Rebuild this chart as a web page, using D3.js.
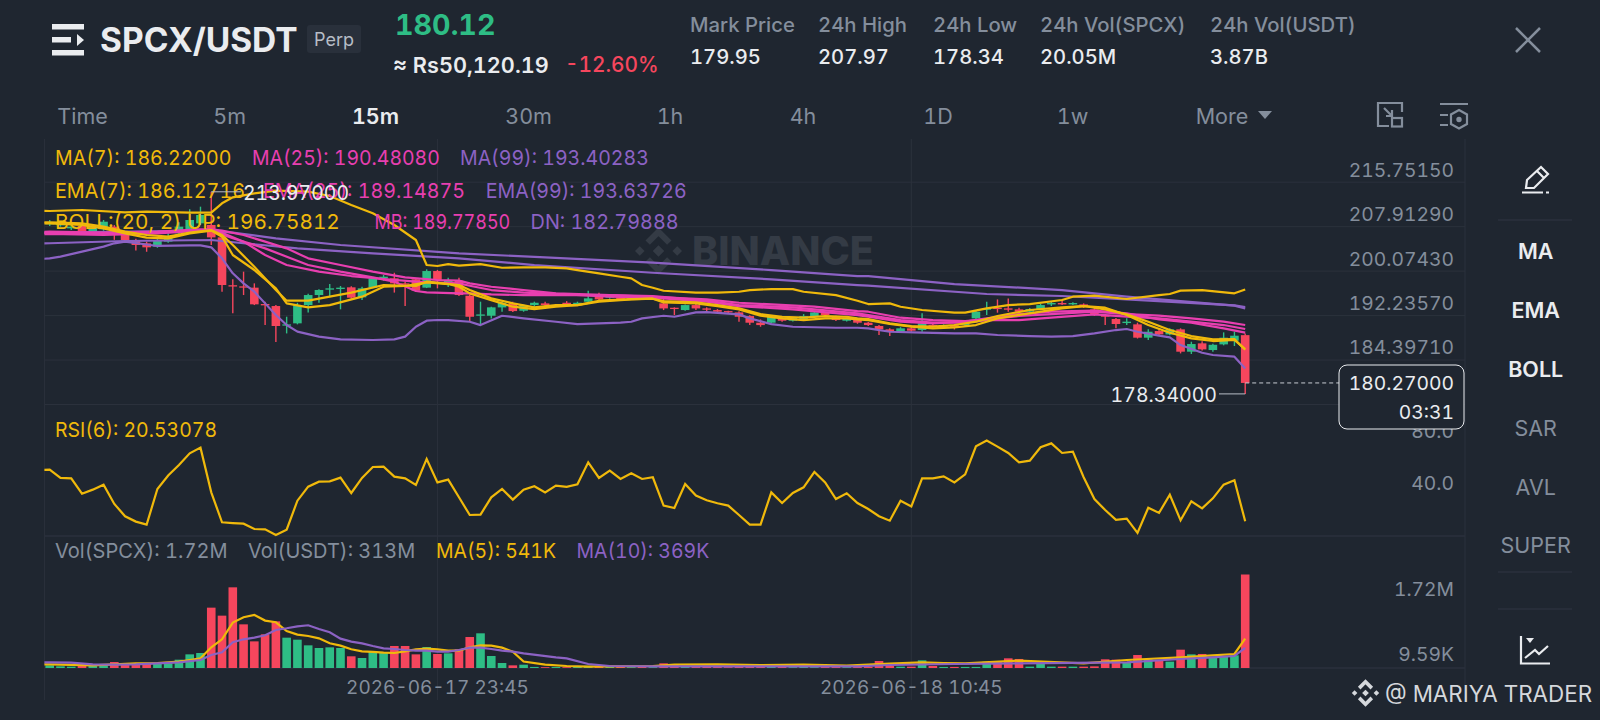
<!DOCTYPE html>
<html>
<head>
<meta charset="utf-8">
<script src="https://cdn.jsdelivr.net/npm/d3@7/dist/d3.min.js"></script>
<style>
  html, body { margin: 0; padding: 0; background: #1f2630; }
  svg { display: block; }
  text { font-family: Inter, "Noto Sans", sans-serif; font-variant-numeric: tabular-nums; }
</style>
</head>
<body>
<svg id="chart" width="1600" height="720"></svg>
<script>
// candles, 15m, oldest first
const opens = [
  208.24,208.06,207.53,207.94,207.0,207.35,207.82,206.65,205.47,204.88,
  204.3,205.18,206.65,207.24,208.41,208.12,205.94,197.5,197.3,197.07,
  194.19,193.83,190.37,190.78,194.0,195.77,196.72,196.83,197.13,195.36,
  197.07,198.71,198.71,197.83,198.54,197.07,200.0,197.54,198.3,195.65,
  192.12,192.12,193.59,194.3,193.0,194.0,194.3,193.83,194.41,194.0,
  194.59,195.94,195.3,195.35,195.12,195.3,195.06,194.3,193.53,193.12,
  194.0,193.41,193.12,192.94,192.71,192.06,190.89,190.89,191.65,191.24,
  191.36,192.06,192.65,191.94,191.24,191.53,190.89,190.31,189.72,189.3,
  189.9,189.6,190.48,190.19,190.48,190.48,191.66,193.18,193.54,193.42,
  193.24,192.83,193.24,194.12,194.36,194.12,194.12,193.24,192.24,191.54,
  190.83,190.6,188.25,189.42,188.83,189.72,185.78,187.25,186.07,187.07,
  187.72,188.7];
const closes = [
  208.53,208.3,207.82,206.98,207.7,208.7,206.35,205.47,204.59,204.18,
  205.47,206.18,207.82,209.0,209.88,205.94,197.54,197.3,197.1,194.13,
  193.95,190.31,190.6,194.0,195.77,196.66,196.95,197.07,195.3,196.95,
  198.71,199.0,197.83,197.65,196.54,200.0,198.42,198.42,195.77,191.94,
  192.35,193.6,194.41,192.94,194.0,194.41,194.0,194.0,194.12,194.41,
  195.18,195.0,195.59,195.0,195.35,195.06,195.3,193.41,193.3,194.0,
  193.41,193.24,192.83,192.71,191.94,190.89,190.47,191.94,191.24,191.77,
  192.06,192.71,192.24,191.36,191.65,190.89,190.48,189.72,189.3,189.9,
  189.48,190.77,190.19,190.48,190.07,191.07,192.83,193.42,193.3,193.18,
  192.83,193.3,194.0,194.36,194.12,194.36,193.71,192.24,191.95,190.66,
  191.07,188.25,189.3,188.83,189.72,185.78,187.13,186.19,187.0,188.25,
  188.6,180.27];
const highs = [
  209.0,208.53,208.06,208.3,208.0,209.0,208.1,206.9,205.7,205.2,
  205.7,206.65,208.6,210.88,211.35,213.97,206.0,198.54,199.89,197.83,
  194.6,194.0,191.95,194.4,196.0,196.8,197.7,197.36,197.3,197.24,
  198.9,199.3,199.7,198.1,198.7,200.3,200.2,198.8,198.8,195.8,
  194.6,193.7,194.6,194.6,194.1,194.6,194.6,194.2,194.7,194.6,
  196.53,196.18,195.8,195.6,195.5,195.4,195.5,195.59,193.6,194.1,
  194.2,193.6,193.3,193.0,192.9,192.2,191.47,192.2,191.9,191.9,
  192.41,192.9,192.8,192.1,191.8,191.7,191.0,190.5,189.9,190.1,
  190.1,192.54,190.7,190.6,190.6,191.2,193.0,194.6,195.0,195.18,
  193.54,193.5,194.2,194.6,195.0,194.5,194.3,193.6,192.4,191.7,
  191.66,190.9,189.72,189.9,189.9,189.9,187.54,187.6,187.2,189.19,
  189.3,189.0];
const lows = [
  207.94,207.82,207.24,206.7,206.6,207.1,205.5,205.2,203.6,203.4,
  204.1,205.0,206.3,207.0,208.1,204.59,196.36,192.54,195.77,194.0,
  190.5,187.5,189.0,190.6,192.7,194.42,195.36,193.25,195.1,194.9,
  196.95,198.3,196.2,193.83,196.3,197.0,196.95,197.2,195.6,191.06,
  190.65,191.65,192.83,192.8,192.83,193.7,193.7,193.7,193.9,193.9,
  194.4,194.8,195.1,194.9,195.0,194.9,194.9,193.12,192.24,193.0,
  193.12,192.83,192.65,192.5,191.06,190.47,190.18,190.8,191.06,191.1,
  191.2,192.0,192.1,191.2,191.1,190.7,190.3,188.72,188.54,189.1,
  189.3,189.3,190.0,190.0,189.7,190.3,191.5,192.24,192.66,192.83,
  192.6,192.7,193.1,193.83,194.0,194.0,193.5,192.1,190.48,189.9,
  190.48,188.1,187.84,188.7,188.7,185.48,185.37,186.0,185.78,186.9,
  186.78,178.34];

// volume in thousands
const volumes = [
  49,31,25,49,37,55,110,67,74,86,
  74,86,153,251,276,1110,963,1484,803,490,
  619,858,558,521,417,368,380,368,215,184,
  300,282,405,405,251,386,258,270,343,570,
  638,221,92,49,61,20,15,18,15,20,
  40,30,20,20,15,18,15,86,66,18,
  18,25,18,15,25,25,25,25,37,15,
  25,15,18,18,15,18,18,129,37,25,
  25,141,37,20,20,20,20,117,117,178,
  166,25,86,25,25,25,25,30,160,153,
  104,239,160,147,117,337,251,258,196,208,
  233,1720];

// first value belongs to the candle just off the left edge
const rsi = [
  59.8,60.3,53.9,53.6,41.8,44.9,48.7,33.9,24.4,20.3,18.0,
  45.4,55.7,63.9,72.8,77.2,42.8,19.8,19.2,18.7,14.6,
  14.4,10.0,14.1,36.4,47.2,51.0,51.3,54.1,42.3,53.9,
  62.3,62.6,54.9,53.6,48.5,68.5,50.5,52.6,39.0,25.4,
  25.7,39.0,45.4,37.2,44.9,47.5,42.8,48.0,47.0,49.0,
  65.9,53.9,59.5,53.1,57.5,53.1,54.4,32.6,30.8,49.2,
  40.3,36.7,34.4,32.6,25.4,18.0,18.0,42.8,34.6,42.3,
  46.7,58.5,50.5,37.7,42.1,34.6,30.0,24.4,21.0,36.4,
  32.0,53.6,53.6,55.1,50.5,56.7,78.2,82.6,78.0,73.1,
  65.9,67.2,77.5,80.5,73.1,74.1,54.4,37.7,29.2,21.6,
  22.6,11.6,31.0,27.0,41.0,21.3,35.9,30.5,38.2,48.7,
  52.1,20.53];

// overlay lines, [candle index, value]
const bollUp = [[-1,210.6],[0,210.59],[3,210.76],[7,210.35],[9,210.47],[13,210.29],[15,210.29],[16,211.94],[17,213.0],[19,213.7],[21,214.17],[24,214.0],[26,213.23],[28,211.65],[30,210.18],[32,208.12],[34,205.47],[35,201.06],[36,200.89],[37,201.23],[38,200.94],[40,201.23],[42,200.58],[44,200.64],[46,200.64],[48,200.47],[49,200.17],[51,199.59],[53,199.0],[54,198.7],[55,197.53],[56,197.06],[57,196.53],[60,196.18],[62,196.18],[64,196.35],[65,196.65],[67,196.82],[69,196.82],[70,196.35],[73,195.76],[75,194.77],[76,194.18],[78,194.3],[79,193.71],[81,193.13],[84,192.66],[85,192.66],[87,193.42],[89,194.0],[91,194.18],[94,194.89],[95,195.48],[97,195.65],[100,195.07],[103,195.77],[104,195.95],[105,196.54],[107,196.65],[110,196.07],[111,196.76]];
const bollDn = [[-1,202.1],[0,202.24],[1,202.53],[3,203.42],[5,204.3],[6,204.89],[7,205.18],[10,204.42],[13,204.53],[14,204.53],[15,204.18],[16,202.24],[17,199.6],[18,197.83],[19,196.36],[20,194.3],[21,192.25],[22,190.48],[23,189.31],[25,188.43],[27,187.96],[30,187.84],[32,187.96],[33,188.43],[34,190.19],[35,191.25],[36,191.37],[37,191.36],[39,191.06],[40,190.47],[42,192.12],[44,191.65],[47,191.06],[49,190.65],[53,190.89],[54,191.06],[55,191.65],[57,192.12],[58,191.94],[60,192.71],[61,192.77],[64,192.36],[65,191.65],[67,190.65],[69,190.18],[73,190.0],[75,190.0],[76,189.9],[78,189.3],[81,189.13],[84,189.01],[86,189.01],[88,188.72],[91,188.54],[93,188.42],[95,188.54],[97,189.0],[99,189.6],[100,189.78],[101,189.3],[103,188.6],[104,188.3],[105,186.95],[107,185.6],[108,185.2],[110,184.9],[111,182.8]];
const bollMb = [[-1,206.5],[0,206.53],[5,206.35],[10,206.65],[14,207.12],[15,207.12],[17,205.77],[20,204.0],[24,201.06],[27,199.89],[30,198.89],[32,198.13],[34,196.48],[35,196.25],[38,196.07],[39,196.06],[41,195.88],[44,195.76],[48,195.76],[52,195.76],[56,195.59],[61,194.77],[64,194.0],[69,193.59],[75,192.53],[76,192.24],[79,191.36],[82,190.9],[85,190.9],[87,191.36],[90,191.36],[93,191.77],[97,192.36],[100,191.95],[103,191.66],[106,191.07],[109,190.48],[111,189.78]];
const ma25 = [[-1,206.9],[0,206.94],[5,206.77],[10,206.94],[14,207.35],[15,207.35],[16,207.12],[18,206.35],[20,205.18],[22,204.0],[24,202.24],[27,201.06],[30,199.89],[33,198.89],[36,198.42],[38,198.3],[39,197.82],[41,197.23],[44,196.65],[47,196.06],[52,195.76],[56,195.47],[61,195.0],[64,194.41],[71,193.71],[75,192.94],[76,192.83],[79,191.77],[82,191.36],[85,191.17],[87,191.48],[90,192.07],[93,192.42],[97,192.83],[100,192.42],[103,192.13],[106,191.66],[109,191.07],[111,190.48]];
const ema25 = [[-1,206.7],[0,206.77],[5,206.65],[10,206.83],[14,207.24],[15,207.24],[16,206.77],[18,205.18],[20,202.83],[22,201.06],[25,199.89],[28,199.12],[31,198.6],[34,198.13],[36,197.95],[38,197.83],[39,197.41],[41,196.65],[44,196.18],[48,195.88],[52,195.47],[56,195.29],[61,194.59],[64,193.82],[69,193.24],[75,192.24],[76,191.95],[79,191.07],[82,190.78],[85,191.07],[87,191.66],[90,192.42],[93,192.83],[97,193.01],[100,192.54],[103,191.48],[106,190.89],[109,189.89],[111,189.15]];
const ma99 = [[-1,206.75],[0,206.77],[15,207.12],[17,206.77],[21,205.77],[27,204.59],[38,203.12],[46,202.41],[56,201.47],[67,200.17],[75,199.12],[76,199.12],[84,197.71],[94,196.65],[100,195.48],[110,193.9],[111,193.4]];
const ema99 = [[-1,204.85],[0,204.9],[7,205.3],[15,205.47],[18,204.9],[23,204.0],[30,203.12],[38,202.24],[45,201.05],[56,199.7],[67,198.53],[75,197.53],[76,197.42],[87,195.95],[94,195.6],[100,195.0],[110,193.95],[111,193.64]];
const ma7 = [[-1,208.4],[0,208.41],[3,208.12],[5,207.53],[7,206.65],[9,205.88],[11,205.77],[13,206.65],[15,207.12],[16,206.06],[17,202.83],[19,200.18],[21,196.95],[22,194.3],[24,193.6],[26,194.0],[29,195.48],[31,197.24],[33,197.36],[35,198.0],[37,197.71],[38,197.24],[39,196.06],[41,194.88],[43,193.71],[45,193.3],[47,193.71],[49,194.0],[51,194.59],[54,195.0],[56,195.12],[57,194.47],[60,194.3],[62,193.82],[64,193.24],[66,192.12],[68,191.65],[70,191.36],[72,191.65],[74,191.65],[75,191.47],[76,191.36],[78,190.66],[80,190.19],[82,189.9],[84,190.07],[86,190.48],[88,191.66],[91,192.54],[94,193.42],[96,193.83],[98,193.54],[100,192.24],[102,190.48],[104,189.13],[106,188.13],[108,187.66],[110,187.84],[111,186.22]];
const ema7 = [[-1,208.6],[0,208.6],[3,208.41],[5,207.82],[7,206.94],[9,206.35],[11,206.06],[13,206.77],[15,207.24],[16,206.35],[17,204.59],[19,200.77],[21,196.66],[22,194.77],[24,194.77],[26,195.48],[28,196.19],[31,197.54],[34,197.36],[35,198.13],[38,197.54],[39,196.65],[41,195.18],[43,194.3],[45,193.59],[47,194.0],[49,194.0],[51,194.77],[54,195.06],[56,195.12],[57,194.71],[60,194.47],[62,194.0],[64,193.41],[66,192.41],[68,191.94],[70,191.77],[72,192.06],[74,191.94],[75,191.65],[76,191.54],[78,190.78],[80,190.3],[82,190.19],[84,190.48],[86,191.07],[88,192.07],[91,193.13],[94,193.6],[96,193.83],[98,193.24],[100,192.36],[102,191.07],[104,189.6],[106,188.54],[108,187.95],[110,188.0],[111,186.13]];
const volMa5 = [[-1,68],[0,68],[4,49],[8,86],[10,92],[12,117],[13,147],[14,178],[15,380],[16,528],[17,835],[18,933],[19,976],[20,872],[21,841],[22,681],[23,614],[24,589],[25,546],[26,454],[27,411],[28,344],[29,307],[30,295],[31,282],[32,276],[33,307],[34,344],[35,356],[36,344],[37,319],[38,319],[39,380],[40,417],[41,411],[42,374],[43,300],[44,120],[46,61],[48,37],[50,25],[52,31],[56,37],[58,61],[62,68],[66,55],[70,61],[74,43],[78,80],[81,104],[83,92],[85,86],[90,135],[96,86],[100,147],[105,196],[108,233],[110,258],[111,541]];
const volMa10 = [[-1,104],[0,104],[2,98],[4,68],[6,61],[8,68],[10,86],[12,104],[14,147],[15,239],[16,289],[17,473],[18,528],[19,559],[20,602],[21,700],[22,731],[23,767],[24,786],[25,718],[26,657],[27,540],[28,485],[29,454],[30,405],[31,362],[32,350],[33,331],[34,319],[35,319],[36,301],[37,301],[38,331],[39,374],[40,374],[41,350],[42,320],[43,300],[44,270],[47,196],[48,178],[50,74],[52,37],[56,31],[75,31],[78,55],[84,74],[90,86],[100,104],[105,166],[108,196],[110,221],[111,369]];

const priceTicks = [215.7515, 207.9129, 200.0743, 192.2357, 184.3971, 176.5585];
const rsiTicks = [80, 40];
const volTicks = [1720, 9.59];
const volTickLabels = ['1.72M', '9.59K'];
const timeLabels = [[36, '2026-06-17 23:45'], [80, '2026-06-18 10:45']];
const tabs = ['Time', '5m', '15m', '30m', '1h', '4h', '1D', '1w', 'More'];
const tools = ['MA', 'EMA', 'BOLL', 'SAR', 'AVL', 'SUPER'];
const statLabels = ['Mark Price', '24h High', '24h Low', '24h Vol(SPCX)', '24h Vol(USDT)'];
const statValues = ['179.95', '207.97', '178.34', '20.05M', '3.87B'];

const BG = '#1f2630', GRID = '#2b313c', GREY = '#848e9c', WHITE = '#eaecef';
const UP = '#2ebd85', DOWN = '#f6465d';
const YELLOW = '#f0b90b', PINK = '#e83fb0', PURPLE = '#8c62c4';

const svg = d3.select('#chart');
svg.append('rect').attr('width', 1600).attr('height', 720).attr('fill', BG);

const left = 44.4, right = 1465;
const x = d3.scaleLinear().domain([0, 111]).range([49.7, 1245.2]);
const y = d3.scaleLinear().domain([215.7515, 176.5585]).range([181.7, 404]);
const yRsi = d3.scaleLinear().domain([80, 40]).range([444, 496]);
const yVol = d3.scaleLinear().domain([0, 1720]).range([668, 574.5]);

svg.append('clipPath').attr('id', 'plot').append('rect')
  .attr('x', left).attr('y', 130).attr('width', right - left).attr('height', 570);

function label(g, px, py, str, fill, size, weight, anchor) {
  return g.append('text')
    .attr('x', px).attr('y', py)
    .attr('dy', '0.36em')
    .attr('fill', fill)
    .attr('font-size', size)
    .attr('font-weight', weight || 400)
    .attr('text-anchor', anchor || 'start')
    .text(str);
}

function exchangeLogo(g, cx, cy, r, color) {
  const c = g.append('g').attr('transform', `translate(${cx}, ${cy})`);
  const diamond = (dx, dy, s) => c.append('path')
    .attr('d', `M${dx - s},${dy} L${dx},${dy - s} L${dx + s},${dy} L${dx},${dy + s} Z`)
    .attr('fill', color);
  diamond(0, 0, r * 0.24);
  diamond(-r * 0.78, 0, r * 0.2);
  diamond(r * 0.78, 0, r * 0.2);
  [-1, 1].forEach(s => {
    c.append('path')
      .attr('d', `M${-r * 0.45},${s * r * 0.35} L0,${s * r * 0.8} L${r * 0.45},${s * r * 0.35}`)
      .attr('fill', 'none')
      .attr('stroke', color)
      .attr('stroke-width', r * 0.26);
  });
}

// grid
const grid = svg.append('g');
const gridLines = g => g.select('.domain').remove();
grid.append('g')
  .attr('transform', `translate(${left}, 0)`)
  .call(d3.axisRight(y).tickValues(priceTicks).tickSize(right - left).tickFormat(''))
  .call(gridLines)
  .selectAll('line').attr('stroke', GRID);
[536, 668].forEach(py => {
  grid.append('line').attr('x1', left).attr('x2', right).attr('y1', py).attr('y2', py).attr('stroke', GRID).attr('stroke-width', 1.5);
});
[left, x(36), x(80), right].forEach(px => {
  grid.append('line').attr('x1', px).attr('x2', px).attr('y1', 139).attr('y2', 700).attr('stroke', GRID);
});

// faint logo behind the candles
const mark = svg.append('g');
exchangeLogo(mark, 658.5, 251, 24, '#343b45');
label(mark, 692, 251, 'BINANCE', '#343b45', 39.5, 800);

// candles
const idx = d3.range(opens.length);
const colorOf = i => closes[i] >= opens[i] ? UP : DOWN;
const barW = 8.6;

const candles = svg.append('g');
candles.selectAll('.wick')
  .data(idx)
  .enter().append('line')
    .attr('class', 'wick')
    .attr('x1', i => x(i)).attr('x2', i => x(i))
    .attr('y1', i => y(highs[i])).attr('y2', i => y(lows[i]))
    .attr('stroke', colorOf)
    .attr('stroke-width', 1.4);
candles.selectAll('.body')
  .data(idx)
  .enter().append('rect')
    .attr('class', 'body')
    .attr('x', i => x(i) - barW / 2)
    .attr('width', barW)
    .attr('y', i => y(Math.max(opens[i], closes[i])))
    .attr('height', i => Math.max(1.3, Math.abs(y(opens[i]) - y(closes[i]))))
    .attr('fill', colorOf);

// overlays
const plot = svg.append('g').attr('clip-path', 'url(#plot)');
const knotLine = scale => d3.line().x(d => x(d[0])).y(d => scale(d[1]));
const overlays = [
  [ma99, PURPLE], [ema99, PURPLE], [bollDn, PURPLE],
  [ma25, PINK], [bollMb, PINK], [ema25, PINK],
  [bollUp, YELLOW], [ma7, YELLOW], [ema7, YELLOW],
];
overlays.forEach(d => {
  plot.append('path').datum(d[0])
    .attr('d', knotLine(y))
    .attr('fill', 'none')
    .attr('stroke', d[1])
    .attr('stroke-width', 2.2)
    .attr('stroke-linejoin', 'round');
});

// rsi
plot.append('path').datum(rsi)
  .attr('d', d3.line().x((d, i) => x(i - 1)).y(d => yRsi(d)))
  .attr('fill', 'none')
  .attr('stroke', YELLOW)
  .attr('stroke-width', 2.2);

// volume
plot.selectAll('.vol')
  .data(idx)
  .enter().append('rect')
    .attr('class', 'vol')
    .attr('x', i => x(i) - barW / 2)
    .attr('width', barW)
    .attr('y', i => yVol(volumes[i]))
    .attr('height', i => yVol(0) - yVol(volumes[i]))
    .attr('fill', colorOf);
[[volMa5, YELLOW], [volMa10, PURPLE]].forEach(d => {
  plot.append('path').datum(d[0])
    .attr('d', knotLine(yVol))
    .attr('fill', 'none')
    .attr('stroke', d[1])
    .attr('stroke-width', 2.2);
});

// legends, last number is the width the string takes up
const txt = svg.append('g');
[
  ['MA(7): 186.22000', 55, 158, YELLOW, 176.5], ['MA(25): 190.48080', 252, 158, PINK, 187.8], ['MA(99): 193.40283', 460, 158, PURPLE, 188.8],
  ['EMA(7): 186.12716', 55, 191, YELLOW, 190], ['EMA(25): 189.14875', 263, 191, PINK, 202], ['EMA(99): 193.63726', 485.7, 191, PURPLE, 201],
  ['BOLL:(20, 2) UP: 196.75812', 55, 222, YELLOW, 284.8], ['MB: 189.77850', 374.5, 222, PINK, 135.7], ['DN: 182.79888', 530.6, 222, PURPLE, 148],
  ['RSI(6): 20.53078', 55, 429.5, YELLOW, 162],
  ['Vol(SPCX): 1.72M', 55, 551, GREY, 172.5], ['Vol(USDT): 313M', 248, 551, GREY, 167.3], ['MA(5): 541K', 436, 551, YELLOW, 120], ['MA(10): 369K', 576.5, 551, PURPLE, 132.7],
].forEach(d => {
  label(txt, d[1], d[2], d[0], d[3], 20.5)
    .attr('textLength', d[4])
    .attr('lengthAdjust', 'spacingAndGlyphs');
});

// high and low markers
svg.append('line').attr('x1', x(15)).attr('x2', 241).attr('y1', y(213.97)).attr('y2', y(213.97)).attr('stroke', '#b7bdc6');
label(txt, 243, y(213.97) + 1, '213.97000', WHITE, 20.5)
  .attr('textLength', 106).attr('lengthAdjust', 'spacingAndGlyphs');
svg.append('line').attr('x1', 1219).attr('x2', x(111)).attr('y1', y(178.34)).attr('y2', y(178.34)).attr('stroke', '#b7bdc6');
label(txt, 1217, y(178.34) + 1, '178.34000', WHITE, 19.5, 400, 'end');

// right axis labels
const AXIS_SIZE = 19.3;
priceTicks.forEach(t => label(txt, 1454, y(t) - 12, d3.format('.5f')(t), GREY, AXIS_SIZE, 400, 'end'));
rsiTicks.forEach(t => label(txt, 1454, yRsi(t) - 13, d3.format('.1f')(t), GREY, AXIS_SIZE, 400, 'end'));
volTicks.forEach((t, i) => label(txt, 1454, yVol(t) + (i === 0 ? 14.5 : -13), volTickLabels[i], GREY, AXIS_SIZE, 400, 'end'));

// last price tag, covers the lowest price label
svg.append('line').attr('x1', x(111)).attr('x2', 1339).attr('y1', y(180.27)).attr('y2', y(180.27))
  .attr('stroke', '#c8ccd2').attr('stroke-dasharray', '4,3');
svg.append('rect').attr('x', 1339).attr('y', 365).attr('width', 125).attr('height', 64).attr('rx', 8)
  .attr('fill', BG).attr('stroke', WHITE);
label(svg, 1454, 383, '180.27000', WHITE, AXIS_SIZE, 400, 'end');
label(svg, 1454, 412, '03:31', WHITE, AXIS_SIZE, 400, 'end');

timeLabels.forEach(d => label(svg, x(d[0]), 687, d[1], GREY, 19, 400, 'middle'));

// header
const head = svg.append('g');
head.append('g').attr('fill', WHITE).call(g => {
  g.append('rect').attr('x', 52).attr('y', 24).attr('width', 32).attr('height', 5.5);
  g.append('rect').attr('x', 52).attr('y', 37).attr('width', 19).attr('height', 5.5);
  g.append('path').attr('d', 'M77,34 L84,40 L77,46 Z');
  g.append('rect').attr('x', 52).attr('y', 50).attr('width', 32).attr('height', 5.5);
});
label(head, 100, 40, 'SPCX/USDT', WHITE, 33.5, 700);
head.append('rect').attr('x', 307).attr('y', 25).attr('width', 54).attr('height', 28).attr('rx', 3).attr('fill', '#29303b');
label(head, 334, 39.5, 'Perp', '#b7bdc6', 18, 400, 'middle');
label(head, 395, 24.5, '180.12', UP, 28.7, 700);
label(head, 393, 65, '≈ Rs50,120.19', WHITE, 21.7, 600);
label(head, 565, 65, '-12.60%', DOWN, 20.8, 500);
[690, 818, 933, 1040, 1210].forEach((px, i) => {
  label(head, px, 24.5, statLabels[i], GREY, 20.3, 500);
  label(head, px, 56.5, statValues[i], WHITE, 20.2, 500);
});
head.append('path').attr('d', 'M1516,28 L1540,52 M1540,28 L1516,52')
  .attr('stroke', GREY).attr('stroke-width', 2.5).attr('fill', 'none');

// interval tabs
const tabX = [82.6, 229.6, 375.5, 528.6, 670, 803, 938, 1072.5, 1222];
tabs.forEach((t, i) => {
  label(head, tabX[i], 116, t, t === '15m' ? WHITE : GREY, 21.5, t === '15m' ? 600 : 400, 'middle');
});
head.append('path').attr('d', 'M1258,111 L1272,111 L1265,119 Z').attr('fill', GREY);

// toolbar icons
const icons = svg.append('g').attr('fill', 'none').attr('stroke', GREY).attr('stroke-width', 2.2);
icons.append('path').attr('d', 'M1390,103 H1378 V126 H1389 M1402,112 V103 H1390');
icons.append('rect').attr('x', 1392).attr('y', 118).attr('width', 10).attr('height', 8.5);
icons.append('path').attr('d', 'M1384,108 L1392,116 M1392,110 V116 H1386');
icons.append('path').attr('d', 'M1440,104 H1468 M1440,115 H1448 M1440,125 H1448');
icons.append('path').attr('d', 'M1459,110 L1467,114.5 V124 L1459,128.5 L1451,124 V114.5 Z');
icons.append('circle').attr('cx', 1459).attr('cy', 119.5).attr('r', 1.6).attr('fill', GREY);

// right side panel
const sideY = [251, 310, 369, 428.5, 487, 545];
tools.forEach((t, i) => {
  label(svg, 1535.7, sideY[i], t, i < 3 ? WHITE : GREY, 21.5, i < 3 ? 600 : 400, 'middle');
});
[220, 572, 609].forEach(py => {
  svg.append('line').attr('x1', 1498).attr('x2', 1572).attr('y1', py).attr('y2', py).attr('stroke', GRID).attr('stroke-width', 1.5);
});
const pen = svg.append('g').attr('fill', 'none').attr('stroke', WHITE).attr('stroke-width', 2.2);
pen.append('path').attr('d', 'M1526,188 L1527,180 L1541,167 L1548,174 L1534,188 Z M1537,171 L1544,178');
pen.append('path').attr('d', 'M1522,192.5 H1543 M1546,192.5 H1549');
const lineIcon = svg.append('g').attr('fill', 'none').attr('stroke', WHITE).attr('stroke-width', 2.2);
lineIcon.append('path').attr('d', 'M1521,636 V663.5 H1550');
lineIcon.append('path').attr('d', 'M1525,658 L1535,650 L1539,654 L1548,646');
svg.append('path').attr('d', 'M1526,638 L1534,638 L1530,643 Z').attr('fill', WHITE);

// user watermark
exchangeLogo(svg, 1365.5, 693, 14, '#d5d8dc');
label(svg, 1385, 694, '@ MARIYA TRADER', '#d5d8dc', 22.4);
</script>
</body>
</html>
